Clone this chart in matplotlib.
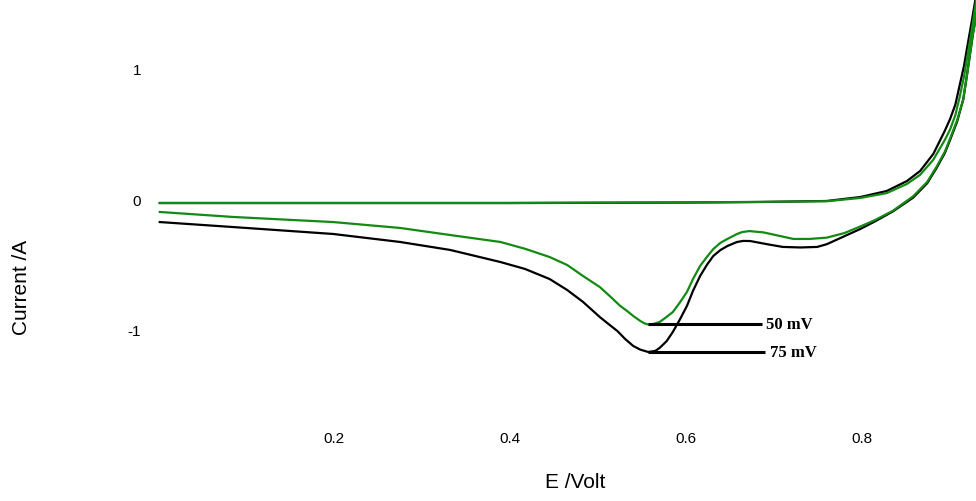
import numpy as np
import matplotlib
matplotlib.use("Agg")
import matplotlib.pyplot as plt

plt.rcParams['font.family'] = ['Liberation Sans', 'DejaVu Sans']

# ---- data (E in volt, current in A) ----
# forward scan (shared by both sweeps, nearly identical)
fwd_E = [0.002, 0.2, 0.4, 0.6, 0.684, 0.76, 0.798, 0.828, 0.851, 0.866,
         0.881, 0.894, 0.900, 0.906, 0.911, 0.916, 0.919, 0.924, 0.928, 0.935]
fwd_I_75 = [-0.031, -0.031, -0.031, -0.027, -0.023, -0.015, 0.015, 0.061, 0.137, 0.214,
            0.344, 0.52, 0.61, 0.72, 0.87, 1.02, 1.14, 1.33, 1.49, 1.75]
fwd_I_50 = [-0.030, -0.030, -0.030, -0.026, -0.022, -0.017, 0.008, 0.045, 0.115, 0.185,
            0.300, 0.45, 0.53, 0.64, 0.78, 0.94, 1.06, 1.26, 1.44, 1.75]

# reverse scan, 50 mV (green)
rev_E_50 = [0.935, 0.931, 0.926, 0.920, 0.915, 0.908, 0.900, 0.894, 0.885, 0.874,
            0.858, 0.835, 0.815, 0.798, 0.780, 0.760, 0.740, 0.722, 0.705, 0.688,
            0.672, 0.664, 0.658, 0.647, 0.639, 0.631, 0.624, 0.616, 0.608, 0.601,
            0.593, 0.585, 0.577, 0.570, 0.563, 0.557, 0.553, 0.548, 0.540, 0.533,
            0.525, 0.514, 0.502, 0.483, 0.465, 0.445, 0.417, 0.389, 0.332, 0.275,
            0.199, 0.085, 0.002]
rev_I_50 = [1.75, 1.45, 1.26, 0.98, 0.76, 0.60, 0.46, 0.36, 0.25, 0.13,
            0.02, -0.09, -0.16, -0.21, -0.26, -0.295, -0.305, -0.305, -0.28, -0.255,
            -0.245, -0.252, -0.267, -0.305, -0.335, -0.382, -0.44, -0.511, -0.61, -0.710,
            -0.79, -0.863, -0.905, -0.939, -0.954, -0.958, -0.950, -0.931, -0.893, -0.855,
            -0.815, -0.745, -0.672, -0.588, -0.504, -0.443, -0.38, -0.328, -0.275, -0.221,
            -0.176, -0.137, -0.099]

# reverse scan, 75 mV (black)
rev_E_75 = [0.935, 0.931, 0.926, 0.920, 0.915, 0.908, 0.900, 0.894, 0.885, 0.874,
            0.858, 0.835, 0.815, 0.798, 0.778, 0.760, 0.749, 0.730, 0.710, 0.692,
            0.673, 0.665, 0.658, 0.647, 0.639, 0.631, 0.624, 0.616, 0.608, 0.601,
            0.593, 0.585, 0.578, 0.570, 0.565, 0.557, 0.548, 0.540, 0.531, 0.522,
            0.512, 0.502, 0.483, 0.465, 0.445, 0.417, 0.389, 0.332, 0.275, 0.199,
            0.085, 0.002]
rev_I_75 = [1.75, 1.45, 1.26, 0.98, 0.76, 0.59, 0.45, 0.35, 0.24, 0.12,
            0.01, -0.095, -0.17, -0.229, -0.290, -0.345, -0.366, -0.370, -0.366, -0.345,
            -0.321, -0.320, -0.328, -0.359, -0.39, -0.435, -0.50, -0.588, -0.70, -0.817,
            -0.92, -1.015, -1.085, -1.137, -1.160, -1.168, -1.150, -1.122, -1.07, -1.008,
            -0.955, -0.901, -0.786, -0.695, -0.611, -0.534, -0.481, -0.389, -0.328, -0.267,
            -0.214, -0.176]

labels = ["50 mV", "75 mV"]
label_end_E = [0.686, 0.690]

x_ticks = [0.2, 0.4, 0.6, 0.8]
y_ticks = [-1, 0, 1]

GREEN = '#138a13'

fig = plt.figure(figsize=(9.76, 5.02), dpi=100)
ax = fig.add_axes([158 / 976, 102 / 502, 1 - 158 / 976, 400 / 502])

E75 = np.concatenate([fwd_E, rev_E_75[1:]])
I75 = np.concatenate([fwd_I_75, rev_I_75[1:]])
E50 = np.concatenate([fwd_E, rev_E_50[1:]])
I50 = np.concatenate([fwd_I_50, rev_I_50[1:]])

ax.plot(E75, I75, color='black', lw=1.6, solid_joinstyle='round')
ax.plot(E50, I50, color=GREEN, lw=1.6, solid_joinstyle='round')

# leader lines from each cathodic peak to its label
for E_rev, I_rev, lab, e_end in [(rev_E_50, rev_I_50, labels[0], label_end_E[0]),
                                  (rev_E_75, rev_I_75, labels[1], label_end_E[1])]:
    k = int(np.argmin(I_rev))
    ax.plot([E_rev[k], e_end], [I_rev[k], I_rev[k]], color='black', lw=2.2,
            solid_capstyle='butt')
    ax.text(e_end + 0.005, I_rev[k], lab, family=['Liberation Serif', 'DejaVu Serif'],
            fontweight='bold', fontsize=12, va='center', ha='left')

ax.set_xlim(0, 0.9295)
ax.set_ylim(-1.527, 1.527)
ax.set_xticks(x_ticks)
ax.set_xticklabels([f"{v:.1f}" for v in x_ticks])
ax.set_yticks(y_ticks)
ax.set_yticklabels([str(v) for v in y_ticks])
ax.tick_params(axis='both', length=0, labelsize=11)
ax.tick_params(axis='y', pad=12)
ax.tick_params(axis='x', pad=23)
for s in ax.spines.values():
    s.set_visible(False)

fig.text(575 / 976, 1 - 483 / 502, "E /Volt", fontsize=15, ha='center', va='center')
fig.text(22 / 976, 1 - 287 / 502, "Current /A", fontsize=15, ha='center', va='center',
         rotation=90)

fig.savefig("out.png", dpi=100)
